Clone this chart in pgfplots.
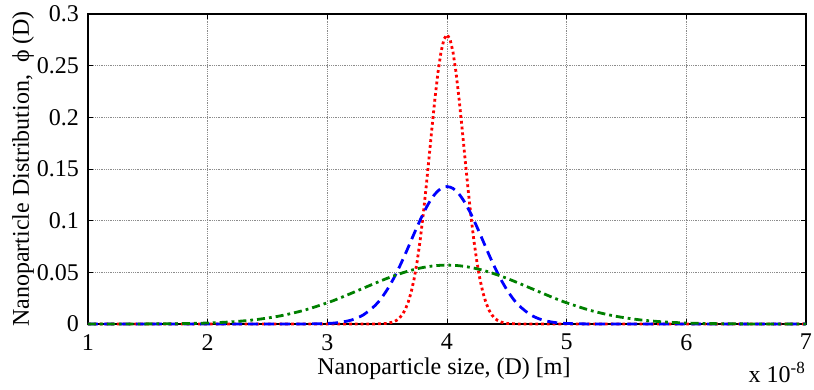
\documentclass[border=0pt]{standalone}
\usepackage{fontspec}
\setmainfont{Liberation Serif}
\usepackage{pgfplots}
\pgfplotsset{compat=1.18}
\definecolor{mgreen}{rgb}{0,0.5,0}
\begin{document}
\fontsize{24}{28}\selectfont
\begin{tikzpicture}
\path[use as bounding box] (-88pt,-66pt) rectangle (726pt,324pt);
\begin{axis}[
  at={(0pt,0pt)}, anchor=south west,
  scale only axis, width=718pt, height=310pt,
  xmin=1, xmax=7, ymin=0, ymax=0.3,
  xtick={1,2,3,4,5,6,7},
  ytick={0,0.05,0.1,0.15,0.2,0.25,0.3},
  yticklabels={0,0.05,0.1,0.15,0.2,0.25,0.3},
  xticklabels={1,2,3,4,5,6,7},
  tick align=inside, tickpos=both, major tick length=5pt,
  tick style={black, line width=0.6pt},
  axis line style={black, line width=1.2pt},
  grid=major,
  major grid style={gray!90, line width=0.7pt, dash pattern=on 1pt off 0.8pt},
  tick label style={font=\fontsize{24}{28}\selectfont},
  /pgf/number format/assume math mode=true,
  xticklabel style={yshift=-2pt},
  yticklabel style={xshift=-1pt},
  clip=false,
]
\addplot[red, line width=2.8pt, line cap=butt, dash pattern=on 2.8pt off 3pt] coordinates {
(1,0) (3.3,0) (3.4,0.00004) (3.5,0.00059) (3.55,0.00191) (3.575,0.00328) (3.6,0.00545)
(3.625,0.00877) (3.65,0.0137) (3.675,0.0208) (3.7,0.0305) (3.725,0.0435) (3.75,0.0601)
(3.775,0.0805) (3.8,0.1046) (3.825,0.1317) (3.85,0.1609) (3.875,0.1906) (3.9,0.2189)
(3.925,0.2438) (3.95,0.2633) (3.975,0.2757) (4.0,0.28)
(4.025,0.2757) (4.05,0.2633) (4.075,0.2438) (4.1,0.2189) (4.125,0.1906) (4.15,0.1609)
(4.175,0.1317) (4.2,0.1046) (4.225,0.0805) (4.25,0.0601) (4.275,0.0435) (4.3,0.0305)
(4.325,0.0208) (4.35,0.0137) (4.375,0.00877) (4.4,0.00545) (4.425,0.00328) (4.45,0.00191)
(4.5,0.00059) (4.6,0.00004) (4.7,0) (7,0)
};
\addplot[blue, line width=2.8pt, smooth, line cap=butt, dash pattern=on 10pt off 6pt] coordinates {
(1,0) (2.5,0) (2.8,0.00004) (3.0,0.00051) (3.1,0.00148) (3.2,0.0038) (3.3,0.00874)
(3.4,0.0180) (3.45,0.0248) (3.5,0.0332) (3.55,0.0432) (3.6,0.0547) (3.65,0.0673)
(3.7,0.0807) (3.75,0.0940) (3.8,0.1065) (3.85,0.1174) (3.9,0.1258) (3.95,0.1312)
(4.0,0.133)
(4.05,0.1312) (4.1,0.1258) (4.15,0.1174) (4.2,0.1065) (4.25,0.0940) (4.3,0.0807)
(4.35,0.0673) (4.4,0.0547) (4.45,0.0432) (4.5,0.0332) (4.55,0.0248) (4.6,0.0180)
(4.7,0.00874) (4.8,0.0038) (4.9,0.00148) (5.0,0.00051) (5.2,0.00004) (5.5,0) (7,0)
};
\addplot[mgreen, line width=2.8pt, smooth, line cap=butt, dash pattern=on 8pt off 4pt on 2.8pt off 4pt] coordinates {
(1,0) (1.5,0.0001) (1.8,0.00041) (2.0,0.00096) (2.2,0.00209) (2.4,0.00418)
(2.6,0.00771) (2.8,0.0131) (3.0,0.0205) (3.1,0.0249) (3.2,0.0297) (3.3,0.0346)
(3.4,0.0395) (3.5,0.0442) (3.6,0.0484) (3.7,0.0520) (3.8,0.0547) (3.9,0.0564) (4.0,0.057)
(4.1,0.0564) (4.2,0.0547) (4.3,0.0520) (4.4,0.0484) (4.5,0.0442) (4.6,0.0395)
(4.7,0.0346) (4.8,0.0297) (4.9,0.0249) (5.0,0.0205) (5.2,0.0131) (5.4,0.00771)
(5.6,0.00418) (5.8,0.00209) (6.0,0.00096) (6.2,0.00041) (6.5,0.0001) (7,0)
};
\end{axis}
\node[rotate=90, anchor=base] at (-59pt,155pt) {Nanoparticle Distribution,\ \ ϕ (D)};
\node[anchor=base] at (356pt,-51pt) {Nanoparticle size, (D) [m]};
\node[anchor=base east, inner sep=0pt] at (717pt,-59pt) {x 10\raisebox{9pt}{\fontsize{17}{20}\selectfont -8}};
\end{tikzpicture}
\end{document}
